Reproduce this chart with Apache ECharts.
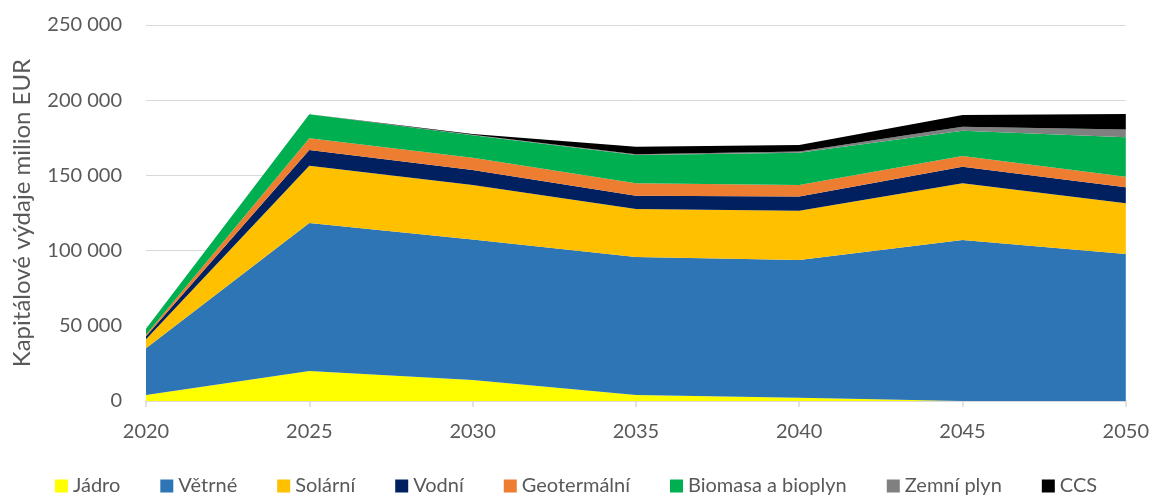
<!DOCTYPE html>
<html>
<head>
<meta charset="utf-8">
<script src="https://cdn.jsdelivr.net/npm/echarts@6/dist/echarts.min.js"></script>
<style>
  html, body { margin: 0; padding: 0; background: #fff; }
  #main { width: 1152px; height: 496px; }
</style>
</head>
<body>
<div id="main"></div>
<script>
var years = ['2020', '2025', '2030', '2035', '2040', '2045', '2050'];

var jadro    = [4000, 20000, 14000, 4000, 2200, 0, 0];
var vetrne   = [31000, 98400, 93300, 91700, 91600, 107000, 97700];
var solarni  = [6000, 38000, 36300, 32000, 32700, 37700, 33700];
var vodni    = [2000, 10500, 10000, 8800, 9500, 11100, 10700];
var geoterm  = [1000, 7800, 8200, 8200, 7600, 7100, 7000];
var biomasa  = [4000, 16000, 14900, 18900, 21500, 16800, 26200];
var zemniPlyn = [0, 0, 300, 500, 800, 2700, 5300];
var ccs      = [0, 0, 600, 5000, 4300, 7800, 10200];

var names  = ['Jádro', 'Větrné', 'Solární', 'Vodní', 'Geotermální', 'Biomasa a bioplyn', 'Zemní plyn', 'CCS'];
var colors = ['#ffff00', '#2e75b6', '#ffc000', '#002060', '#ed7d31', '#00b050', '#808080', '#000000'];
var values = [jadro, vetrne, solarni, vodni, geoterm, biomasa, zemniPlyn, ccs];

var myChart = echarts.init(document.getElementById('main'));

var font = 'Lato, "Open Sans", sans-serif';

option = {
    animation: false,
    color: colors,
    textStyle: { fontFamily: font },
    grid: { left: 146, right: 26, top: 25, bottom: 95 },
    legend: {
        top: 476,
        left: 'center',
        padding: 0,
        itemWidth: 13,
        itemHeight: 13,
        itemGap: 40,
        icon: 'rect',
        textStyle: { fontSize: 20, color: '#595959', fontFamily: font },
        data: names
    },
    xAxis: {
        type: 'category',
        boundaryGap: false,
        data: years,
        axisLine: { lineStyle: { color: '#d9d9d9', width: 1.5 } },
        axisTick: { show: true, length: 6, lineStyle: { color: '#d9d9d9', width: 1.5 } },
        axisLabel: { fontSize: 20, color: '#595959', margin: 21 }
    },
    yAxis: {
        type: 'value',
        min: 0,
        max: 250000,
        interval: 50000,
        name: 'Kapitálové výdaje milion EUR',
        nameLocation: 'middle',
        nameGap: 112,
        nameTextStyle: { fontSize: 24, color: '#595959' },
        axisLine: { show: false },
        axisTick: { show: false },
        splitLine: { lineStyle: { color: '#d9d9d9', width: 1 } },
        axisLabel: {
            fontSize: 20, color: '#595959', margin: 24,
            formatter: function (v) {
                return String(v).replace(/\B(?=(\d{3})+(?!\d))/g, ' ');
            }
        }
    },
    series: names.map(function (n, i) {
        return {
            name: n,
            type: 'line',
            stack: 'total',
            showSymbol: false,
            symbol: 'none',
            lineStyle: { width: 0 },
            areaStyle: { color: colors[i], opacity: 1 },
            data: values[i]
        };
    })
};

myChart.setOption(option);
</script>
</body>
</html>
